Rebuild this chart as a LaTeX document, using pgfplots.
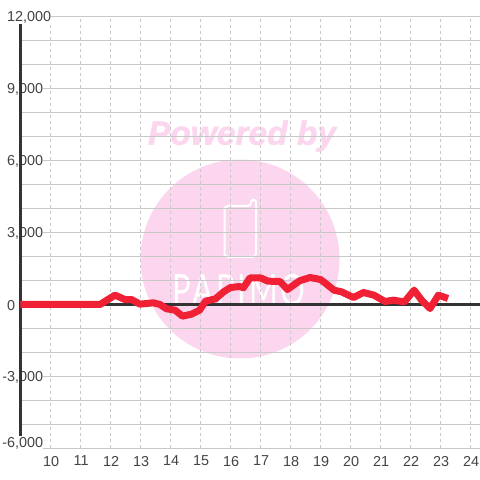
\documentclass[border=0pt]{standalone}
\usepackage{fontspec}
\setmainfont{Liberation Sans}
\newfontfamily\wmfont{Lato}
\usepackage{pgfplots}
\pgfplotsset{compat=1.18}
\definecolor{wm}{HTML}{FBD6EE}
\definecolor{gridc}{HTML}{C8C8C8}
\definecolor{axisc}{HTML}{333333}
\definecolor{textc}{HTML}{444444}
\definecolor{redl}{HTML}{F02035}
\newcommand\lowlabel{\llap{-}6,000}
\begin{document}
\begin{tikzpicture}[x=1pt,y=1pt]
\useasboundingbox (0,0) rectangle (480,480);
% watermark, pixel positions (y up = 480 - py)
\fill[wm] (240,221) circle (99.5);
\node[wm,font=\fontsize{33.5}{33.5}\selectfont\bfseries\itshape,anchor=center] at (242,344) {\addfontfeature{FakeBold=1.5}Powered by};
\draw[white,line width=2pt,rounded corners=3.5pt] (224.5,250) -- (224.5,274) -- (251,274) [rounded corners=1.5pt] -- (251,280) -- (256,280) [rounded corners=3.5pt] -- (256,223) -- (224.5,223) -- cycle;
\node[white,font=\fontsize{43}{43}\wmfont,anchor=center,xscale=.72] at (239,190) {\addfontfeature{LetterSpace=9}PAPIMO};
\begin{axis}[
  at={(20.5pt,31.5pt)},anchor=south west,
  scale only axis,width=459.5pt,height=432pt,
  xmin=9,xmax=24.317,ymin=-6000,ymax=12000,
  axis line style={draw=none},
  tick style={draw=none},
  scaled y ticks=false,
  xtick={10,...,24},
  ytick={-3000,0,3000,6000,9000,12000},
  yticklabels={{\llap{-}3,000},0,{3,000},{6,000},{9,000},{12,000}},
  extra y ticks={-6000},
  extra y tick labels={\lowlabel},
  extra y tick style={yticklabel style={yshift=6.5pt}},
  minor ytick={-5000,-4000,-2000,-1000,1000,2000,4000,5000,7000,8000,10000,11000},
  xmajorgrids,ymajorgrids,yminorgrids,
  x grid style={gridc,line width=1pt,dash pattern=on 3pt off 3pt},
  y grid style={gridc,line width=1pt},
  minor grid style={gridc,line width=1pt},
  clip=false,
  /pgf/number format/assume math mode=true,
  tick label style={font=\fontsize{14.4}{14.4}\selectfont,text=textc},
  xticklabel style={yshift=-4pt,xshift=0.7pt},
  yticklabel style={anchor=west,fill=white,inner sep=0pt,inner ysep=1pt,xshift=-13.5pt,yshift=-1pt},
]
\addplot[axisc,line width=3pt,forget plot] coordinates {(9,0) (24.317,0)};
\addplot[axisc,line width=3pt,forget plot] coordinates {(9,-5500) (9,11667)};
\addplot[redl,line width=7pt,line join=round] coordinates {
(9,0) (11.65,0) (12.15,390) (12.48,208) (12.7,208) (12.98,14) (13.43,70) (13.65,0)
(13.87,-180) (14.15,-236) (14.4,-486) (14.7,-403) (14.97,-236) (15.17,139) (15.5,236)
(15.77,528) (16,708) (16.3,750) (16.43,695) (16.65,1110) (17,1110) (17.25,972) (17.65,958)
(17.9,625) (18.3,986) (18.65,1125) (19,1040) (19.15,900) (19.45,597) (19.7,528) (20.1,292)
(20.43,500) (20.78,390) (21.15,125) (21.43,180) (21.8,110) (22.12,597) (22.37,180)
(22.65,-167) (22.93,390) (23.25,250)
};
\end{axis}
\end{tikzpicture}
\end{document}
